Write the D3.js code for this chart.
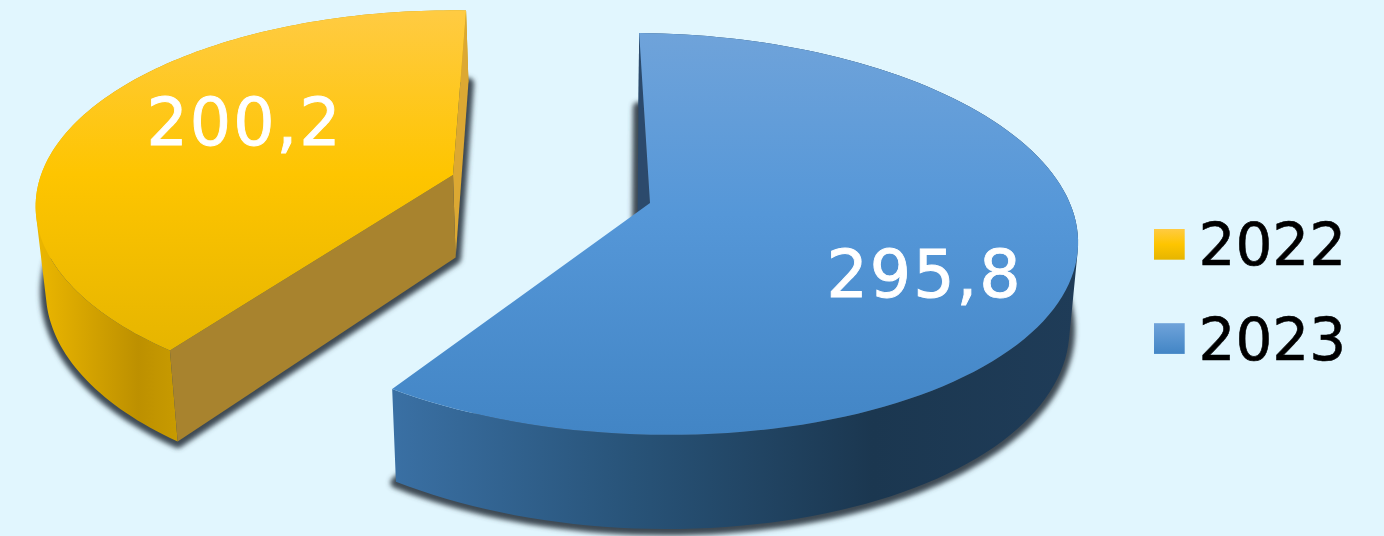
<!DOCTYPE html>
<html>
<head>
<meta charset="utf-8">
<script src="https://cdn.jsdelivr.net/npm/d3@7"></script>
<style>
html, body { margin: 0; padding: 0; background: #e1f6fe; overflow: hidden; }
text { font-family: "DejaVu Sans", Inter, sans-serif; }
</style>
</head>
<body>
<div id="chart-area"></div>
<script>
// data
var years = ['2022', '2023']
var values = [200.2, 295.8]

// look of each slice, same order as years
var sliceLayout = [
	{cx: 453, cy: 175, rx: 412, ry: 191, tilt: 0.16, shear: 0, twist: -0.2, trim: 0, apexShift: 0, backWall: false,
		top: 'topYellow', side: 'sideYellow', cut: '#a8832e', back: '#dca832', labelX: 244.5, labelY: 144.5},
	{cx: 650, cy: 203, rx: 423, ry: 196, tilt: 0.154, shear: 0.02, twist: -4, trim: 1, apexShift: -12, backWall: true,
		top: 'topBlue', side: 'sideBlue', cut: '#2c4a6c', back: '#2c4a6c', labelX: 924.5, labelY: 297}
]

var width = 1384, height = 536
var rad = Math.PI / 180

var svg = d3.select('#chart-area').append('svg')
	.attr('width', width)
	.attr('height', height)
	.style('display', 'block')

svg.append('rect').attr('width', width).attr('height', height).attr('fill', '#e1f6fe')

var defs = svg.append('defs')

function gradient(id, x1, y1, x2, y2, stops, units) {
	var g = defs.append('linearGradient').attr('id', id)
		.attr('gradientUnits', units || 'userSpaceOnUse')
		.attr('x1', x1).attr('y1', y1).attr('x2', x2).attr('y2', y2)
	stops.forEach(function(s){
		g.append('stop').attr('offset', s[0]).attr('stop-color', s[1])
	})
}

gradient('topYellow', 0, 12, 0, 350, [[0, '#ffcb42'], [0.48, '#fec500'], [1, '#e6b500']])
gradient('topBlue', 0, 33, 0, 435, [[0, '#6fa3da'], [0.45, '#5597d8'], [1, '#4285c5']])
gradient('sideYellow', 36, 0, 182, 0, [[0, '#ecb700'], [0.7, '#bd9000'], [1, '#c99c00']])
gradient('sideBlue', 393, 0, 1078, 0, [[0, '#3a70a4'], [0.35, '#285378'], [0.7, '#1b3750'], [1, '#1f3c58']])
gradient('legendYellow', 0, 0, 0, 1, [[0, '#ffcb42'], [0.5, '#fec500'], [1, '#e6b500']], 'objectBoundingBox')
gradient('legendBlue', 0, 0, 0, 1, [[0, '#6fa3da'], [1, '#4285c5']], 'objectBoundingBox')

var blur = defs.append('filter').attr('id', 'shadow')
	.attr('x', '-10%').attr('y', '-10%').attr('width', '120%').attr('height', '120%')
blur.append('feGaussianBlur').attr('stdDeviation', 2.6)

// circle on the table -> screen, with some perspective
function project(s, a, r) {
	var u = r * Math.sin(a), v = -r * Math.cos(a)
	var w = 1 / (1 - s.tilt * v)
	var x = s.rx * u * w
	return [s.cx + x, s.cy + s.ry * v * w + s.shear * x]
}

// same point on the underside of the disc
function under(p) {
	var y = p[1]
	return [p[0] - 0.018 * (p[0] - 600), y + 71 + 0.075 * y - 0.00005 * y * y]
}

var pie = d3.pie().sort(null).startAngle(217 * rad).endAngle(577 * rad)
var arcs = pie(values)
var line = d3.line()
var fmt = d3.formatLocale({decimal: ',', thousands: ' ', grouping: [3], currency: ['', '']}).format('.1f')

function arcPoints(s, d) {
	var start = d.startAngle + s.twist * rad
	var end = d.endAngle + (s.twist - s.trim) * rad
	return d3.range(0, 121).map(function(i){
		return project(s, start + (end - start) * i / 120, 1)
	})
}

// the wall as one path of small quads, all wound the same way so the
// silhouette stays filled where the disc edge turns away
function wallPath(rim, low) {
	return d3.range(0, rim.length - 1).map(function(i){
		var q = [rim[i], rim[i + 1], low[i + 1], low[i]]
		if (d3.polygonArea(q) < 0) q.reverse()
		return line(q) + 'Z'
	}).join('')
}

var slices = arcs.map(function(d, i){
	var s = sliceLayout[i]
	var rim = arcPoints(s, d)
	var apex = project(s, 0, 0)
	var low = rim.map(under)
	var lowApex = under(apex)
	lowApex[0] += s.apexShift
	return {s: s, d: d, rim: rim, low: low, apex: apex, lowApex: lowApex}
})

var group = svg.append('g')

var marks = group.selectAll('g.slice')
	.data(slices)
	.enter()
	.append('g')
	.attr('class', 'slice')

// shadow under the disc
marks.append('path')
	.attr('d', function(d){ return line(d.low.concat([d.lowApex])) + 'Z' })
	.attr('fill', '#3e4a52')
	.attr('stroke', '#3e4a52')
	.attr('stroke-width', 11)
	.attr('stroke-linejoin', 'round')
	.attr('transform', 'translate(0,1)')
	.attr('filter', 'url(#shadow)')

// outer wall
marks.append('path')
	.attr('d', function(d){ return wallPath(d.rim, d.low) })
	.attr('fill', function(d){ return 'url(#' + d.s.side + ')' })

// the two cut walls, the one at the back first
marks.append('path')
	.attr('d', function(d){
		var a = d.s.backWall ? d.rim[0] : d.rim[120]
		return line([a, under(a), d.lowApex, d.apex]) + 'Z'
	})
	.attr('fill', function(d){ return d.s.back })

marks.filter(function(d){ return !d.s.backWall }).append('path')
	.attr('d', function(d){
		var a = d.rim[0]
		return line([a, under(a), d.lowApex, d.apex]) + 'Z'
	})
	.attr('fill', function(d){ return d.s.cut })

// top face
marks.append('path')
	.attr('d', function(d){ return line(d.rim.concat([d.apex])) + 'Z' })
	.attr('fill', function(d){ return 'url(#' + d.s.top + ')' })

// value labels
marks.append('text')
	.attr('x', function(d){ return d.s.labelX })
	.attr('y', function(d){ return d.s.labelY })
	.attr('text-anchor', 'middle')
	.attr('font-size', '65px')
	.attr('letter-spacing', '2px')
	.attr('fill', '#fff')
	.attr('stroke', '#fff')
	.attr('stroke-width', 0.9)
	.text(function(d){ return fmt(d.d.value) })

// legend
var legendY = d3.scalePoint().domain(years).range([244.3, 338.5])
var legendFill = d3.scaleOrdinal().domain(years).range(['url(#legendYellow)', 'url(#legendBlue)'])

var legend = svg.selectAll('g.legend')
	.data(years)
	.enter()
	.append('g')
	.attr('class', 'legend')
	.attr('transform', function(d){ return 'translate(1154,' + legendY(d) + ')' })

legend.append('rect')
	.attr('y', -15.3)
	.attr('width', 30.7)
	.attr('height', 30.7)
	.attr('fill', function(d){ return legendFill(d) })

legend.append('text')
	.attr('x', 44.5)
	.attr('y', 21)
	.attr('font-size', '58px')
	.attr('fill', '#000')
	.attr('stroke', '#000')
	.attr('stroke-width', 0.6)
	.text(function(d){ return d })
</script>
</body>
</html>
